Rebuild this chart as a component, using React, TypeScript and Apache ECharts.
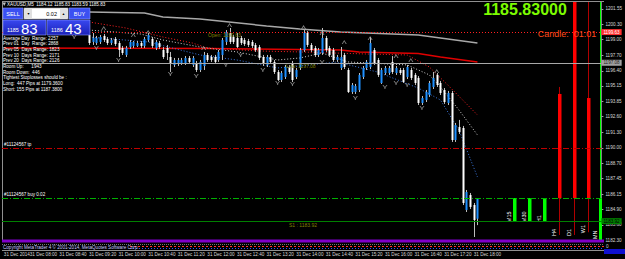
import React, { useEffect, useRef } from 'react';
import * as echarts from 'echarts';

const FONT = '"Liberation Sans", Arial, sans-serif';
const BLUE = '#1E90FF';

// ---- x axis: 5-minute slots ----
const slotStartMinutes = 7 * 60 + 25;
const slotCount = 162;
const firstCandleSlot = 23;
const timeLabelSlots = [0, 7, 15, 23, 31, 39, 47, 55, 63, 71, 79, 87, 95, 103, 111, 119, 127];
const timeLabels = ['31 Dec 2014', '31 Dec 08:00', '31 Dec 08:40', '31 Dec 09:20', '31 Dec 10:00', '31 Dec 10:40', '31 Dec 11:20', '31 Dec 12:00', '31 Dec 12:40', '31 Dec 13:20', '31 Dec 14:00', '31 Dec 14:40', '31 Dec 15:20', '31 Dec 16:00', '31 Dec 16:40', '31 Dec 17:20', '31 Dec 18:00'];

// ---- price axis ----
const priceMin = 1182.27;
const priceMax = 1202.13;
const priceTicks = [1201.55, 1200.30, 1199.00, 1197.70, 1196.40, 1195.15, 1193.85, 1192.60, 1191.30, 1190.00, 1188.70, 1187.45, 1186.15, 1184.90, 1183.60, 1182.30];

// ---- M5 candles ----
const candleOpen = [1199.39, 1198.81, 1198.72, 1198.81, 1199.31, 1199.06, 1198.72, 1199.06, 1198.72, 1198.31, 1197.73, 1198.39, 1198.48, 1198.48, 1198.72, 1198.48, 1198.97, 1199.06, 1198.31, 1198.72, 1198.14, 1198.31, 1197.56, 1196.90, 1196.98, 1197.06, 1197.06, 1197.48, 1196.90, 1197.06, 1196.48, 1196.81, 1197.73, 1197.56, 1197.56, 1197.31, 1197.73, 1198.81, 1199.56, 1199.22, 1199.14, 1199.14, 1198.97, 1198.89, 1198.81, 1198.56, 1198.39, 1197.56, 1196.90, 1197.56, 1197.15, 1196.31, 1195.65, 1195.90, 1196.73, 1197.06, 1195.90, 1196.65, 1198.14, 1199.56, 1198.56, 1198.31, 1197.73, 1197.89, 1199.14, 1198.31, 1198.14, 1197.31, 1196.65, 1197.73, 1196.48, 1194.65, 1194.65, 1194.82, 1195.90, 1196.65, 1196.73, 1198.14, 1197.31, 1195.40, 1196.23, 1196.23, 1197.15, 1196.23, 1196.48, 1196.48, 1195.90, 1196.48, 1196.07, 1195.82, 1193.74, 1193.99, 1194.40, 1195.07, 1196.07, 1195.40, 1194.82, 1193.74, 1194.57, 1190.66, 1191.74, 1191.66, 1184.85, 1186.09, 1185.26, 1184.12];
const candleClose = [1198.72, 1199.14, 1199.14, 1199.22, 1198.97, 1198.72, 1198.97, 1198.64, 1198.14, 1197.89, 1198.31, 1198.81, 1198.81, 1198.72, 1198.48, 1199.06, 1199.39, 1198.48, 1198.81, 1198.39, 1197.56, 1197.89, 1197.06, 1197.31, 1197.31, 1197.31, 1197.48, 1197.15, 1197.48, 1196.48, 1197.15, 1197.73, 1197.31, 1197.31, 1197.15, 1197.98, 1198.97, 1199.64, 1198.81, 1198.81, 1198.39, 1198.72, 1198.64, 1198.56, 1198.48, 1198.14, 1197.48, 1197.06, 1197.56, 1197.15, 1196.31, 1195.65, 1196.23, 1196.73, 1196.31, 1195.65, 1196.48, 1198.14, 1199.56, 1198.56, 1198.14, 1197.73, 1198.14, 1199.14, 1198.14, 1197.73, 1197.31, 1197.56, 1197.56, 1196.73, 1194.65, 1195.23, 1195.15, 1196.07, 1196.65, 1197.15, 1198.72, 1197.06, 1196.07, 1196.48, 1196.65, 1196.65, 1196.31, 1196.65, 1196.23, 1195.48, 1196.73, 1195.82, 1195.40, 1193.74, 1194.15, 1194.65, 1195.40, 1195.82, 1195.23, 1194.57, 1193.82, 1194.57, 1190.66, 1191.91, 1191.33, 1185.43, 1186.34, 1185.10, 1184.01, 1185.83];
const candleLow = [1198.56, 1198.56, 1198.56, 1198.64, 1198.81, 1198.56, 1198.56, 1198.48, 1197.56, 1197.73, 1197.56, 1198.23, 1198.31, 1198.39, 1198.31, 1198.31, 1198.81, 1198.31, 1198.14, 1198.23, 1197.40, 1197.31, 1196.31, 1196.73, 1196.81, 1196.90, 1196.90, 1196.98, 1196.73, 1196.31, 1196.31, 1196.48, 1197.15, 1197.15, 1196.98, 1197.15, 1197.31, 1198.56, 1198.64, 1198.64, 1198.31, 1198.56, 1198.48, 1198.39, 1198.31, 1197.98, 1197.31, 1196.81, 1196.73, 1196.98, 1196.15, 1195.57, 1195.48, 1195.73, 1196.15, 1195.48, 1195.73, 1196.48, 1197.98, 1198.39, 1197.98, 1197.56, 1197.56, 1197.73, 1197.98, 1197.56, 1197.15, 1197.15, 1196.48, 1196.56, 1194.57, 1194.49, 1194.49, 1194.65, 1195.73, 1196.48, 1196.56, 1196.90, 1195.90, 1195.32, 1196.07, 1196.07, 1196.15, 1196.07, 1196.07, 1195.40, 1195.73, 1195.65, 1195.23, 1193.57, 1193.57, 1193.82, 1194.24, 1194.90, 1195.07, 1194.40, 1193.66, 1193.57, 1190.50, 1190.50, 1191.16, 1185.26, 1184.68, 1184.93, 1182.60, 1183.59];
const candleHigh = [1199.80, 1199.56, 1199.31, 1199.39, 1199.47, 1199.22, 1199.14, 1199.22, 1198.89, 1198.48, 1198.48, 1198.97, 1198.89, 1198.89, 1198.89, 1199.22, 1199.56, 1199.22, 1198.97, 1198.89, 1198.39, 1198.56, 1197.98, 1197.48, 1197.48, 1197.48, 1197.64, 1197.64, 1197.64, 1197.23, 1197.31, 1197.98, 1197.89, 1197.73, 1197.73, 1198.14, 1199.14, 1199.80, 1199.97, 1199.39, 1199.56, 1199.31, 1199.14, 1199.06, 1198.97, 1198.72, 1198.56, 1197.73, 1197.73, 1197.73, 1197.31, 1196.48, 1196.40, 1196.90, 1196.90, 1197.23, 1196.65, 1198.31, 1199.80, 1199.72, 1198.72, 1198.48, 1198.31, 1199.97, 1199.31, 1198.48, 1198.31, 1197.73, 1198.39, 1197.89, 1196.65, 1195.40, 1195.32, 1196.23, 1196.81, 1197.31, 1199.22, 1198.31, 1197.48, 1196.65, 1196.81, 1196.81, 1197.64, 1196.81, 1196.65, 1196.65, 1196.90, 1196.65, 1196.23, 1195.98, 1194.32, 1194.82, 1195.57, 1196.31, 1196.23, 1195.57, 1194.98, 1194.74, 1194.74, 1192.08, 1192.33, 1191.83, 1186.51, 1186.26, 1185.43, 1185.83];

// ---- indicator lines: [slot, price] ----
const greyMA = [[23, 1201.30], [38, 1201.22], [43, 1200.89], [53, 1200.72], [71, 1200.14], [80, 1199.89], [91, 1199.64], [112, 1199.39], [118, 1199.14], [128, 1198.72]];
const redMA = [[0, 1198.31], [55, 1198.27], [91, 1198.14], [96, 1197.98], [112, 1197.85], [118, 1197.56], [128, 1197.15]];
const redDotted = [[23, 1200.47], [33, 1199.97], [43, 1199.22], [51, 1198.72], [55, 1198.31], [69, 1198.06], [80, 1197.98], [98, 1197.81], [109, 1197.73], [115, 1196.73], [120, 1195.23], [124, 1193.99], [128, 1192.74]];
const whiteDotted = [[23, 1199.80], [37, 1199.47], [43, 1198.97], [53, 1198.39], [63, 1197.98], [74, 1197.31], [80, 1197.48], [86, 1197.89], [93, 1197.15], [104, 1196.98], [109, 1196.90], [115, 1196.07], [118, 1195.07], [123, 1193.16], [128, 1191.08]];
const blueDotted = [[23, 1199.22], [39, 1198.81], [53, 1197.73], [63, 1197.31], [74, 1196.65], [80, 1196.81], [90, 1197.15], [101, 1196.31], [112, 1194.98], [118, 1193.99], [123, 1191.49], [128, 1187.59]];

// ---- fractals ----
const fractalUp = [[27, 1199.97], [35, 1199.39], [39, 1199.64], [54, 1198.31], [61, 1200.22], [81, 1200.05], [86, 1199.56], [92, 1198.81], [99, 1199.14], [106, 1197.64], [110, 1197.31], [117, 1196.40]];
const fractalDown = [[19, 1199.22], [25, 1198.31], [31, 1197.31], [45, 1196.15], [52, 1195.98], [60, 1196.90], [64, 1197.73], [70, 1196.48], [74, 1195.40], [78, 1195.32], [86, 1197.15], [95, 1194.15], [103, 1195.07], [106, 1195.40], [109, 1195.23], [113, 1193.32]];

// ---- higher timeframe candles ----
const tfNames = ['M15', 'M30', 'H1', 'H4', 'D1', 'W1', 'MN'];
const tfSlots = [138, 142, 146, 150, 154, 158, 161];
const tfOpen = [1183.92, 1183.92, 1183.92, 1194.49, 1202.60, 1194.15, 1167.00];
const tfClose = [1185.83, 1185.83, 1185.83, 1185.83, 1185.83, 1185.83, 1185.83];
const tfLow = [1183.92, 1183.92, 1183.92, 1182.77, 1182.77, 1183.00, 1160.00];
const tfHigh = [1185.83, 1185.83, 1185.83, 1195.07, 1203.00, 1205.00, 1240.00];

// ---- levels ----
const openLevel = 1199.63;
const lowLevel = 1197.08;
const tpLevel = 1190.00;
const buyLevel = 1185.83;
const s1Level = 1183.92;

const panelLines = [
  'Average Day  Range: 2257',
  'Prev 01  Day  Range: 2868',
  'Prev 05  Days Range: 1823',
  'Prev 10  Days Range: 2171',
  'Prev 20  Days Range: 2126',
  'Room Up:      1943',
  'Room Down:  446',
  'Tightest Stoplosses should be :',
  'Long:  447 Pips at 1179.3600',
  'Short: 155 Pips at 1187.3800',
];

function slotName(i: number) {
  const t = slotStartMinutes + i * 5;
  const h = Math.floor(t / 60), m = t % 60;
  return (h < 10 ? '0' : '') + h + ':' + (m < 10 ? '0' : '') + m;
}

export default function App() {
  const ref = useRef<HTMLDivElement>(null);
  useEffect(() => {
    document.body.style.margin = '0';
    const chart = echarts.init(ref.current!, null, { renderer: 'svg' });
    const slots = Array.from({ length: slotCount }, (_, i) => slotName(i));
    const labelMap: Record<number, string> = {};
    timeLabelSlots.forEach((s, i) => (labelMap[s] = timeLabels[i]));

    const candleData = candleOpen.map((o, i) => [firstCandleSlot + i, o, candleClose[i], candleLow[i], candleHigh[i]]);
    const tfData = tfNames.map((n, i) => [tfSlots[i], tfOpen[i], tfClose[i], tfLow[i], tfHigh[i]]);

    const tiny = { fontSize: 4.6, fontFamily: FONT };

    const renderCandle = (params: any, api: any) => {
      const s = api.value(0);
      const o = api.value(1), c = api.value(2), l = api.value(3), h = api.value(4);
      const po = api.coord([s, o]), pc = api.coord([s, c]);
      const pl = api.coord([s, l]), ph = api.coord([s, h]);
      const cx = Math.round(po[0]);
      const top = Math.min(po[1], pc[1]), bot = Math.max(po[1], pc[1]);
      const bull = c >= o;
      return {
        type: 'group',
        children: [
          { type: 'line', shape: { x1: cx + 0.5, y1: ph[1], x2: cx + 0.5, y2: pl[1] }, style: { stroke: '#bdbdbd', lineWidth: 1 } },
          { type: 'rect', shape: { x: cx - 0.5, y: top, width: 2, height: Math.max(bot - top, 1) }, style: { fill: bull ? BLUE : '#ffffff' } },
        ],
      };
    };

    const renderTf = (params: any, api: any) => {
      const s = api.value(0);
      const o = api.value(1), c = api.value(2), l = api.value(3), h = api.value(4);
      const name = tfNames[params.dataIndex];
      const po = api.coord([s, o]), pc = api.coord([s, c]);
      const pl = api.coord([s, l]), ph = api.coord([s, h]);
      const cx = Math.round(po[0]);
      const top = Math.min(po[1], pc[1]), bot = Math.max(po[1], pc[1]);
      const bull = c >= o;
      const col = bull ? '#00ff00' : '#ff0000';
      const labelY = Math.min(pl[1], 238) + 1;
      return {
        type: 'group',
        children: [
          { type: 'line', shape: { x1: cx + 0.5, y1: ph[1], x2: cx + 0.5, y2: pl[1] }, style: { stroke: bull ? col : '#b00000', lineWidth: 1 } },
          { type: 'rect', shape: { x: cx - 1, y: top, width: 3.5, height: Math.max(bot - top, 1) }, style: { fill: col } },
          {
            type: 'text', x: cx - 5, y: labelY, rotation: Math.PI / 2,
            style: { text: name, fill: '#ffffff', fontSize: 5.5, fontFamily: FONT, align: 'left', verticalAlign: 'middle', backgroundColor: '#000000' },
          },
        ],
      };
    };

    const boxLabel = (text: string, bg: string, fg: string) => ({
      show: true, position: 'end', formatter: text, backgroundColor: bg, color: fg,
      fontSize: 4.6, fontFamily: FONT, padding: [1, 2, 0, 2], distance: 0,
    });

    const option: any = {
      animation: false,
      backgroundColor: '#000000',
      textStyle: { fontFamily: FONT },
      grid: { left: 2, right: 21, top: 2, bottom: 18, show: false },
      xAxis: {
        type: 'category', data: slots, boundaryGap: true,
        axisLine: { show: false }, axisTick: { show: false }, splitLine: { show: false },
        axisLabel: {
          interval: (i: number) => labelMap[i] !== undefined,
          formatter: (_v: string, i: number) => labelMap[i] || '',
          align: 'left', margin: 11, color: '#d8d8d8', ...tiny,
        },
      },
      yAxis: {
        type: 'value', position: 'right', min: priceMin, max: priceMax, scale: true,
        axisLine: { show: true, lineStyle: { color: '#808080' } },
        axisTick: { show: true, length: 2, customValues: priceTicks, lineStyle: { color: '#a0a0a0' } },
        axisLabel: { customValues: priceTicks, formatter: (v: number) => v.toFixed(2), color: '#d8d8d8', margin: 4, ...tiny },
        splitLine: { show: false },
      },
      series: [
        {
          type: 'line', name: 'redMA', data: redMA, symbol: 'none', connectNulls: true,
          lineStyle: { color: '#e00000', width: 1.5 }, z: 2,
          markLine: {
            symbol: 'none', silent: true,
            data: [
              { yAxis: openLevel, lineStyle: { color: '#ff2020', type: [1, 2], width: 1 }, label: boxLabel(openLevel.toFixed(2), '#ff3030', '#ffffff') },
              { yAxis: lowLevel, lineStyle: { color: '#a8a8a8', type: 'solid', width: 1 }, label: boxLabel(lowLevel.toFixed(2), '#a0a0a0', '#202020') },
              { yAxis: tpLevel, lineStyle: { color: '#c00000', type: [6, 2, 1, 2], width: 1 }, label: { show: true, position: 'insideStartTop', formatter: '#11124567 tp', color: '#ffffff', distance: [2, 1], ...tiny } },
              { yAxis: buyLevel, lineStyle: { color: '#00b000', type: [6, 2, 1, 2], width: 1 }, label: { show: true, position: 'insideStartTop', formatter: '#11124567 buy 0.02', color: '#ffffff', distance: [2, 1], ...tiny } },
              { yAxis: buyLevel, lineStyle: { opacity: 0 }, label: boxLabel(buyLevel.toFixed(2), '#ffffff', '#000000') },
              { yAxis: s1Level, lineStyle: { color: '#008000', type: 'solid', width: 1 }, label: boxLabel(s1Level.toFixed(2), '#008000', '#000000') },
            ],
          },
        },
        { type: 'line', name: 'greyMA', data: greyMA, symbol: 'none', lineStyle: { color: '#a8a8a8', width: 1.5 }, z: 2 },
        { type: 'line', name: 'redDotted', data: redDotted, symbol: 'none', lineStyle: { color: '#ff2020', width: 1, type: [1, 2] }, z: 3 },
        { type: 'line', name: 'whiteDotted', data: whiteDotted, symbol: 'none', lineStyle: { color: '#d0d0d0', width: 1, type: [1, 2] }, z: 3 },
        { type: 'line', name: 'blueDotted', data: blueDotted, symbol: 'none', lineStyle: { color: '#3a78e0', width: 1, type: [1, 2] }, z: 3 },
        { type: 'custom', name: 'candles', data: candleData, renderItem: renderCandle, encode: { x: 0, y: [1, 2, 3, 4] }, clip: true, z: 4 },
        { type: 'custom', name: 'tf', data: tfData, renderItem: renderTf, encode: { x: 0, y: [1, 2, 3, 4] }, clip: true, z: 4 },
        { type: 'scatter', name: 'fractalUp', data: fractalUp, symbol: 'path://M0,10 L5,0 L10,10 L8,10 L5,4 L2,10 Z', symbolSize: [5, 4], itemStyle: { color: '#a0a0a0' }, z: 5 },
        { type: 'scatter', name: 'fractalDown', data: fractalDown, symbol: 'path://M0,0 L2,0 L5,5 L8,0 L10,0 L6,7 L6,10 L4,10 L4,7 Z', symbolSize: [5, 4], itemStyle: { color: '#a0a0a0' }, z: 5 },
      ],
      graphic: {
        elements: [
          // window frame
          { type: 'line', shape: { x1: 2, y1: 1.5, x2: 604, y2: 1.5 }, style: { stroke: '#909090', lineWidth: 1 }, z: 1 },
          { type: 'line', shape: { x1: 2.5, y1: 1, x2: 2.5, y2: 241 }, style: { stroke: '#909090', lineWidth: 1 }, z: 1 },
          // bottom sub-window
          { type: 'rect', shape: { x: 2, y: 239.5, width: 602, height: 3 }, style: { fill: '#7f00c8' }, z: 50 },
          { type: 'line', shape: { x1: 2, y1: 244.5, x2: 604, y2: 244.5 }, style: { stroke: '#c0c0c0', lineWidth: 0.6, lineDash: [1, 1] }, z: 50 },
          { type: 'line', shape: { x1: 130, y1: 246.5, x2: 604, y2: 246.5 }, style: { stroke: '#ff3030', lineWidth: 1, lineDash: [2, 2] }, z: 50 },
          { type: 'line', shape: { x1: 130, y1: 248.5, x2: 604, y2: 248.5 }, style: { stroke: '#3050ff', lineWidth: 1, lineDash: [1, 2] }, z: 50 },
          { type: 'line', shape: { x1: 2, y1: 250.5, x2: 604, y2: 250.5 }, style: { stroke: '#909090', lineWidth: 1 }, z: 50 },
          { type: 'text', x: 3, y: 247.5, style: { text: 'Copyright MetaTrader 4 © 2001-2014, MetaQuotes Software Corp.', fill: '#c8c8ff', ...tiny, verticalAlign: 'middle' }, z: 51 },
          { type: 'rect', shape: { x: 604, y: 249, width: 21, height: 5 }, style: { fill: '#1010d0' }, z: 50 },
          { type: 'text', x: 606, y: 246, style: { text: '0', fill: '#d0d0d0', ...tiny, verticalAlign: 'middle' }, z: 51 },
          // title
          { type: 'text', x: 7, y: 4.5, style: { text: 'XAUUSD,M5  1184.12 1185.83 1183.59 1185.83', fill: '#ffffff', ...tiny, verticalAlign: 'middle' }, z: 60 },
          { type: 'polygon', shape: { points: [[2.5, 2.5], [6, 2.5], [4.2, 6]] }, style: { fill: '#c0c0c0' }, z: 60 },
          // trade panel
          { type: 'rect', shape: { x: 3, y: 8, width: 20, height: 11 }, style: { fill: '#3b50f2', stroke: '#8a98ff', lineWidth: 0.6 }, z: 60 },
          { type: 'text', x: 13, y: 13.5, style: { text: 'SELL', fill: '#ffffff', fontSize: 5.5, fontFamily: FONT, align: 'center', verticalAlign: 'middle' }, z: 61 },
          { type: 'rect', shape: { x: 24, y: 8, width: 44, height: 11 }, style: { fill: '#ffffff', stroke: '#a0a0a0', lineWidth: 0.6 }, z: 60 },
          { type: 'rect', shape: { x: 25, y: 9, width: 7, height: 9 }, style: { fill: '#e0e0e0' }, z: 61 },
          { type: 'rect', shape: { x: 60, y: 9, width: 7, height: 9 }, style: { fill: '#e0e0e0' }, z: 61 },
          { type: 'text', x: 28.5, y: 13.5, style: { text: '▼', fill: '#000000', fontSize: 3.5, fontFamily: FONT, align: 'center', verticalAlign: 'middle' }, z: 62 },
          { type: 'text', x: 63.5, y: 13.5, style: { text: '▲', fill: '#000000', fontSize: 3.5, fontFamily: FONT, align: 'center', verticalAlign: 'middle' }, z: 62 },
          { type: 'text', x: 57, y: 13.5, style: { text: '0.02', fill: '#000000', fontSize: 5.5, fontFamily: FONT, align: 'right', verticalAlign: 'middle' }, z: 62 },
          { type: 'rect', shape: { x: 69, y: 8, width: 21, height: 11 }, style: { fill: '#3b50f2', stroke: '#8a98ff', lineWidth: 0.6 }, z: 60 },
          { type: 'text', x: 79.5, y: 13.5, style: { text: 'BUY', fill: '#ffffff', fontSize: 5.5, fontFamily: FONT, align: 'center', verticalAlign: 'middle' }, z: 61 },
          {
            type: 'rect', shape: { x: 3, y: 20, width: 43, height: 15 },
            style: { fill: new echarts.graphic.LinearGradient(0, 0, 0, 1, [{ offset: 0, color: '#3848f0' }, { offset: 1, color: '#1c22b8' }]), stroke: '#8a98ff', lineWidth: 0.6 }, z: 60,
          },
          {
            type: 'rect', shape: { x: 47, y: 20, width: 43, height: 15 },
            style: { fill: new echarts.graphic.LinearGradient(0, 0, 0, 1, [{ offset: 0, color: '#3848f0' }, { offset: 1, color: '#1c22b8' }]), stroke: '#8a98ff', lineWidth: 0.6 }, z: 60,
          },
          { type: 'text', x: 7, y: 30, style: { text: '1185', fill: '#ffffff', fontSize: 5.5, fontFamily: FONT, verticalAlign: 'middle' }, z: 61 },
          { type: 'text', x: 21, y: 28, style: { text: '83', fill: '#ffffff', fontSize: 15, fontFamily: FONT, verticalAlign: 'middle' }, z: 61 },
          { type: 'text', x: 51, y: 30, style: { text: '1186', fill: '#ffffff', fontSize: 5.5, fontFamily: FONT, verticalAlign: 'middle' }, z: 61 },
          { type: 'text', x: 65, y: 28, style: { text: '43', fill: '#ffffff', fontSize: 15, fontFamily: FONT, verticalAlign: 'middle' }, z: 61 },
          ...panelLines.map((t, i) => ({
            type: 'text', x: 3, y: 38 + i * 5.7,
            style: { text: t, fill: '#ffffff', ...tiny, verticalAlign: 'middle' }, z: 60,
          })),
          // on-chart texts
          { type: 'text', x: 525, y: 9.5, style: { text: '1185.83000', fill: '#7CFC00', fontSize: 16, fontWeight: 'bold', fontFamily: FONT, align: 'center', verticalAlign: 'middle' }, z: 60 },
          { type: 'text', x: 567, y: 34, style: { text: 'Candle:  01:01', fill: '#FF4A1A', fontSize: 9, fontFamily: FONT, align: 'center', verticalAlign: 'middle' }, z: 60 },
          { type: 'text', x: 208, y: 35, style: { text: 'Open: 1199.63', fill: '#808000', fontSize: 5, fontFamily: FONT, verticalAlign: 'middle' }, z: 60 },
          { type: 'text', x: 286, y: 66, style: { text: 'Low: 1197.08', fill: '#808000', fontSize: 5, fontFamily: FONT, verticalAlign: 'middle' }, z: 60 },
          { type: 'text', x: 289, y: 225, style: { text: 'S1 : 1183.92', fill: '#808000', fontSize: 5, fontFamily: FONT, verticalAlign: 'middle' }, z: 60 },
        ],
      },
    };
    chart.setOption(option);
    return () => chart.dispose();
  }, []);
  return <div ref={ref} style={{ width: 625, height: 259, background: '#000' }} />;
}
